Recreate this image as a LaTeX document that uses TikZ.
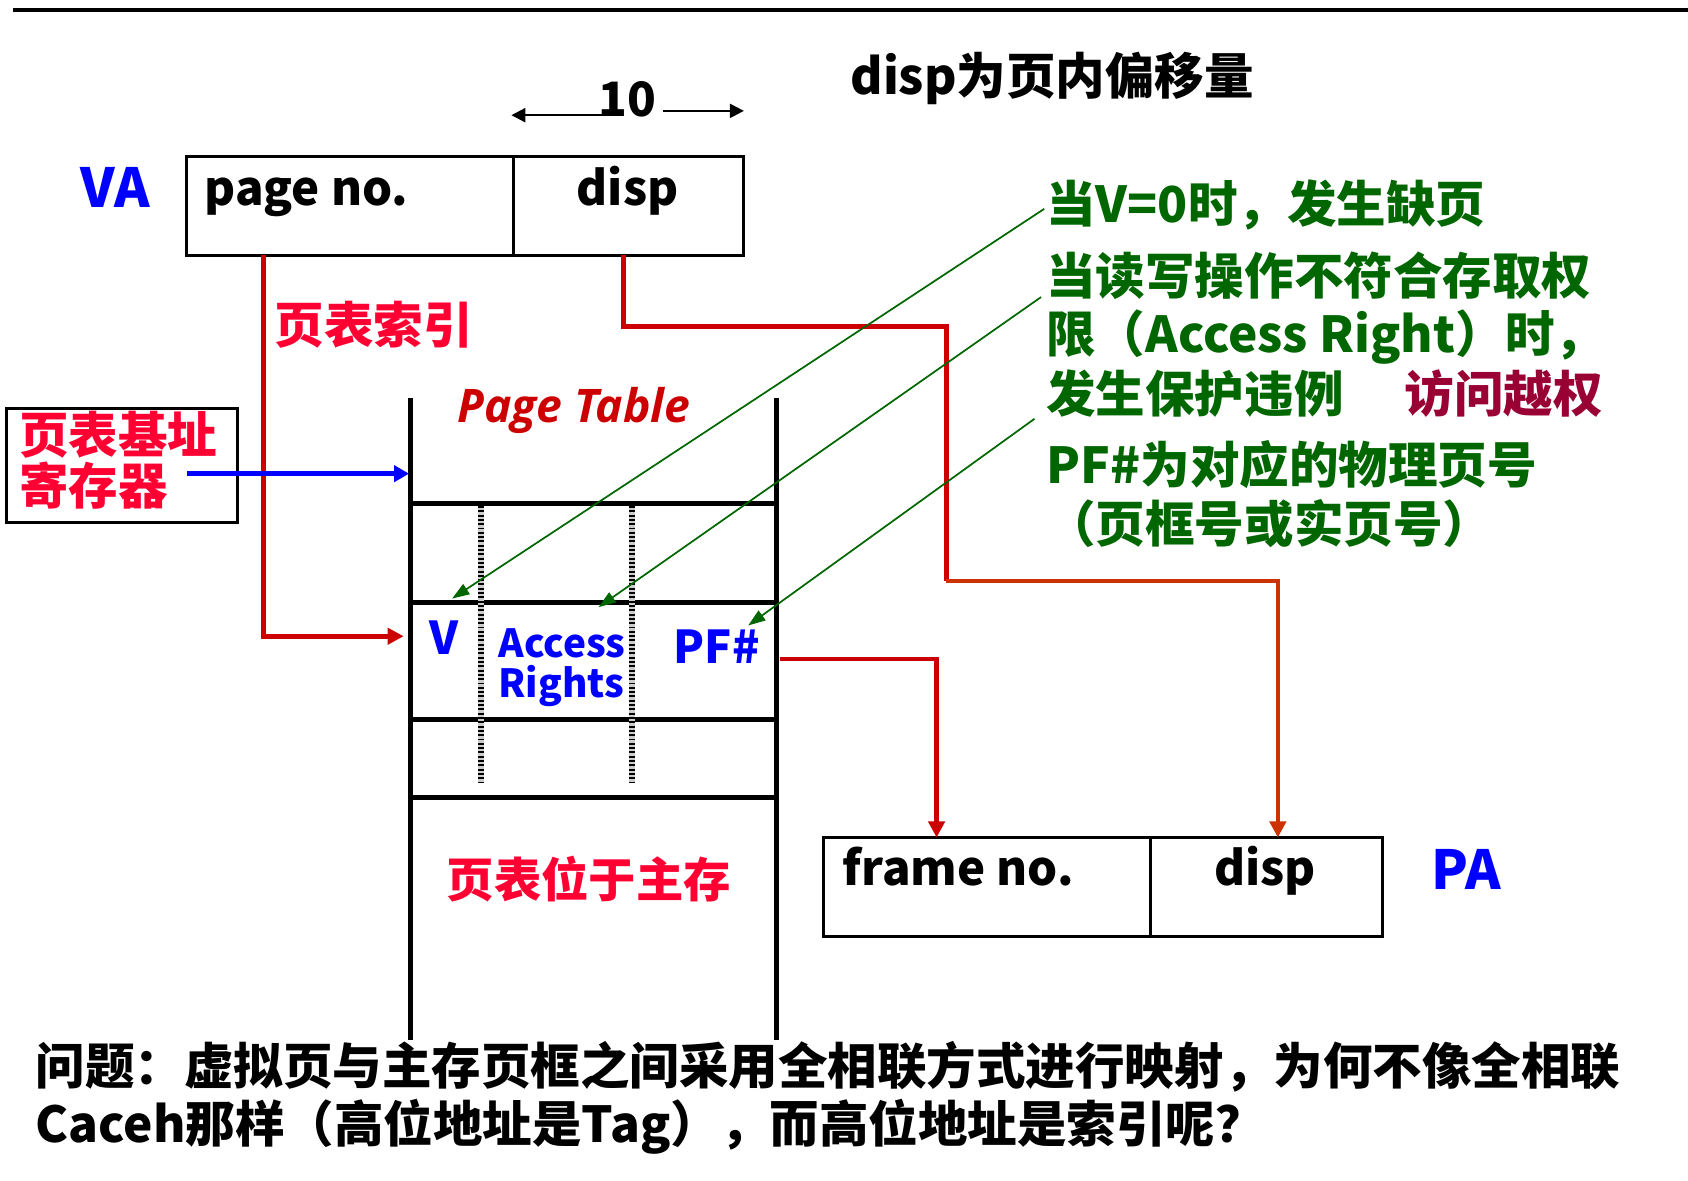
\documentclass[tikz,border=0pt]{standalone}
\usepackage{fontspec}
\setmainfont{Noto Sans CJK SC}
\newfontfamily\ptitfont{Open Sans}
\usetikzlibrary{arrows.meta}
\definecolor{arrred}{RGB}{204,0,0}
\definecolor{lblred}{RGB}{255,0,51}
\definecolor{orng}{RGB}{204,51,0}
\definecolor{grn}{RGB}{0,102,0}
\definecolor{wine}{RGB}{153,0,51}
\definecolor{blu}{RGB}{0,0,255}
\newcommand\fsz[1]{\fontsize{#1}{#1}\selectfont}
\begin{document}
\begin{tikzpicture}[x=0.5pt,y=-0.5pt,
  every node/.style={inner sep=0pt, outer sep=0pt},
  big/.style={font=\bfseries\fsz{23pt}},
  mid/.style={font=\bfseries\fsz{22pt}},
  cell/.style={draw, line width=1.4pt, anchor=north west, minimum height=46pt},
  ptline/.style={line width=2.3pt},
  hatch/.style={line width=2.6pt, draw=black!20, postaction={draw=black, line width=2.6pt, dash pattern=on 0.9pt off 1.1pt}},
  redline/.style={draw=arrred, line width=2.2pt},
  redarr/.style={redline, -{Triangle[length=7.5pt,width=7.5pt]}},
  orgarr/.style={draw=orng, line width=2pt, -{Triangle[length=7.5pt,width=7.5pt]}},
  bluarr/.style={draw=blu, line width=2.2pt, -{Triangle[length=7pt,width=7.5pt]}},
  grnarr/.style={draw=grn, line width=0.8pt, -{Triangle[length=8pt,width=5.5pt]}},
  tenarr/.style={line width=1pt, -{Triangle[length=6.5pt,width=6.5pt]}}]
\fill[white] (0,0) rectangle (1568,1097);
\useasboundingbox (0,0) rectangle (1568,1097);

% top rule
\draw[line width=1.85pt] (12,9) -- (1568,9);

% title and width mark
\node[big, anchor=base west] (title) at (790,88) {disp为页内偏移量};
\node[mid, anchor=base] (ten) at (583,108) {10};
\coordinate (tenLs) at (561,107);
\coordinate (tenLt) at (475,107);
\coordinate (tenRs) at (616,103);
\coordinate (tenRt) at (691,103);
\draw[tenarr] (tenLs) -- (tenLt);
\draw[tenarr] (tenRs) -- (tenRt);

% VA
\node[cell, minimum width=152pt] (pn) at (173,145) {};
\node[cell, minimum width=107pt] (dp) at (477,145) {};
\node[mid, anchor=base west] (pnl) at (190,191) {page no.};
\node[mid, anchor=base] (dpl) at (583,191) {disp};
\node[font=\bfseries\fsz{25pt}, text=blu, anchor=base] (va) at (107,193) {VA};

% PA
\node[cell, minimum width=152pt] (fn) at (765,778) {};
\node[cell, minimum width=107.5pt] (pd) at (1069,778) {};
\node[mid, anchor=base west] (fnl) at (783,823) {frame no.};
\node[mid, anchor=base] (pdl) at (1175,823) {disp};
\node[font=\bfseries\fsz{25pt}, text=blu, anchor=base west] (pa) at (1330,826) {PA};

% page table base register
\node[draw, line width=1.4pt, anchor=north west, minimum width=107.5pt, minimum height=53pt] (reg) at (6,379) {};
\node[big, text=lblred, anchor=base west] (reg1) at (18,421) {页表基址};
\node[big, text=lblred, anchor=base west] (reg2) at (18,469) {寄存器};

% page table
\draw[ptline] (381,370) -- (381,966);
\draw[ptline] (721,370) -- (721,966);
\foreach \yy in {468,560,668,741} {\draw[ptline] (381,\yy) -- (721,\yy);}
\draw[hatch] (447,470) -- (447,727);
\draw[hatch] (587,470) -- (587,727);
\node[font=\ptitfont\bfseries\itshape\fsz{21.5pt}, text=arrred, anchor=base west] (ptl) at (425,392) {Page Table};
\node[font=\bfseries\fsz{21pt}, text=blu, anchor=base] (v) at (412,608) {V};
\node[font=\bfseries\fsz{18pt}, text=blu, anchor=base west] (ar1) at (463,611) {Access};
\node[font=\bfseries\fsz{18pt}, text=blu, anchor=base west] (ar2) at (463,648) {Rights};
\node[font=\bfseries\fsz{21pt}, text=blu, anchor=base west] (pf) at (626,616) {PF\#};

% red labels
\node[big, text=lblred, anchor=base west] (idx) at (255,319) {页表索引};
\node[font=\bfseries\fsz{22pt}, text=lblred, anchor=base west] (inmem) at (415,834) {页表位于主存};

% green notes
\node[big, text=grn, anchor=base west] (g1) at (972,207) {当V=0时，发生缺页};
\node[big, text=grn, anchor=base west] (g2) at (972,274) {当读写操作不符合存取权};
\node[big, text=grn, anchor=base west] (g3) at (972,327) {限（Access Right）时，};
\node[big, text=grn, anchor=base west] (g4) at (972,383) {发生保护违例};
\node[big, text=wine, anchor=base west] (g5) at (1305,383) {访问越权};
\node[big, text=grn, anchor=base west] (g6) at (972,449) {PF\#为对应的物理页号};
\node[big, text=grn, anchor=base west] (g7) at (972,504) {（页框号或实页号）};

% question
\node[big, anchor=base west] (q1) at (33,1007) {问题：虚拟页与主存页框之间采用全相联方式进行映射，为何不像全相联};
\node[big, anchor=base west] (q2) at (33,1061) {Caceh那样（高位地址是Tag），而高位地址是索引呢？};

% connectors
\coordinate (row2) at (375,591);
\draw[redarr] ([xshift=36pt]pn.south west) |- (row2);
\coordinate (dj) at (879,303);
\coordinate (bend) at (879,540);
\draw[redline] ([xshift=51pt]dp.south west) |- (dj) -- (bend);
\draw[orgarr] (bend) -| ([xshift=59pt]pd.north west);
\coordinate (pfOut) at (725,612);
\draw[redarr, line width=2pt] (pfOut) -| ([xshift=52.5pt]fn.north west);
\coordinate (blueStart) at (174,440);
\coordinate (ptEntry) at (380,440);
\draw[bluarr] (blueStart) -- (ptEntry);

\coordinate (gs1) at (970,194);
\coordinate (gs2) at (967,276);
\coordinate (gs3) at (961,389);
\coordinate (vt) at (420,556);
\coordinate (art) at (556,564);
\coordinate (pft) at (695,581);
\draw[grnarr] (gs1) -- (vt);
\draw[grnarr] (gs2) -- (art);
\draw[grnarr] (gs3) -- (pft);
\end{tikzpicture}
\end{document}
